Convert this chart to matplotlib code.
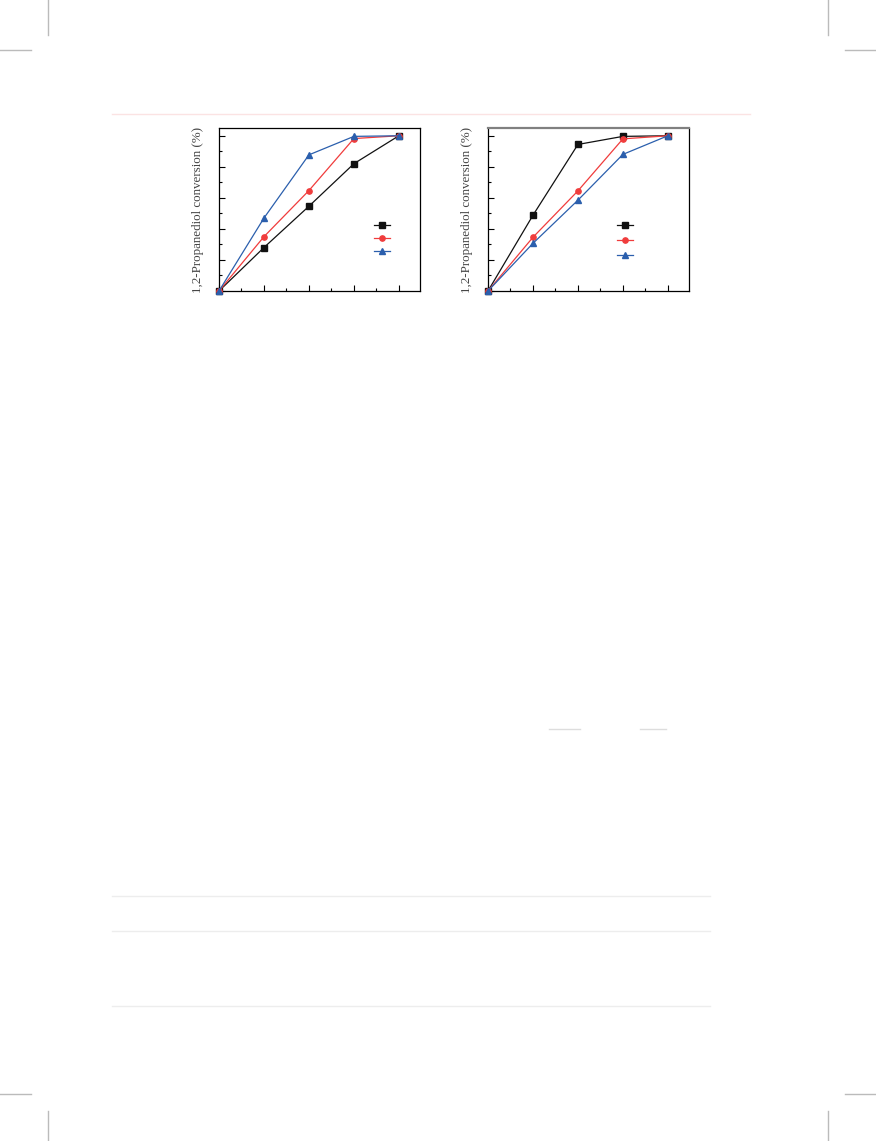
import numpy as np
import matplotlib.pyplot as plt
from matplotlib.lines import Line2D

plt.rcParams['font.family'] = ['Liberation Serif', 'DejaVu Serif']

# time points (h) and conversion (%)
time = [0, 1, 2, 3, 4]
left_black = [0, 28.0, 54.6, 82.0, 100]
left_red = [0, 35.0, 64.7, 98.2, 100]
left_blue = [0, 47.0, 87.7, 99.6, 100]
right_black = [0, 48.8, 94.4, 99.6, 100]
right_red = [0, 34.6, 64.5, 98.0, 100]
right_blue = [0, 30.7, 58.5, 88.0, 100]

W, H = 876, 1141
fig = plt.figure(figsize=(W / 100, H / 100), dpi=100)

BLACK = '#111111'
RED = '#f03c3c'
BLUE = '#2b5fad'


def px_axes(x0, y0, x1, y1):
    return fig.add_axes([x0 / W, 1 - y1 / H, (x1 - x0) / W, (y1 - y0) / H])


def draw(ax, series, leg_pos, spacing):
    styles = [(BLACK, 's'), (RED, 'o'), (BLUE, '^')]
    handles = []
    for (c, m), y in zip(styles, series):
        h, = ax.plot(time, y, color=c, marker=m, markersize=3.8, lw=0.9,
                     clip_on=False, zorder=3)
        handles.append(h)
    ax.set_xlim(0, 4.47)
    ax.set_ylim(0, 105)
    ax.set_xticks([0, 1, 2, 3, 4])
    ax.set_xticks([0.5, 1.5, 2.5, 3.5], minor=True)
    ax.set_yticks(np.arange(0, 101, 20))
    ax.set_yticks(np.arange(10, 101, 20), minor=True)
    ax.tick_params(which='both', direction='in', labelbottom=False,
                   labelleft=False, width=0.8)
    ax.tick_params(which='major', length=4)
    ax.tick_params(which='minor', length=2.5)
    for s in ax.spines.values():
        s.set_linewidth(0.9)
    ax.set_ylabel('1,2-Propanediol conversion (%)', fontsize=9.4,
                  color='#444444', labelpad=11)
    ax.legend(handles, ['', '', ''], loc='upper left', bbox_to_anchor=leg_pos,
              frameon=False, handlelength=1.6, handletextpad=0, borderpad=0,
              borderaxespad=0, fontsize=7, labelspacing=spacing)


ax1 = px_axes(219, 128, 420, 291)
draw(ax1, [left_black, left_red, left_blue], (0.771, 0.43), 0.45)

ax2 = px_axes(488, 128, 689, 291)
draw(ax2, [right_black, right_red, right_blue], (0.642, 0.43), 0.65)
ax2.spines['top'].set_color('#808080')
ax2.spines['top'].set_linewidth(1.6)


# faint page decorations
def fline(x0, y0, x1, y1, color='#bbbbbb', lw=1.0):
    fig.add_artist(Line2D([x0 / W, x1 / W], [1 - y0 / H, 1 - y1 / H],
                          color=color, lw=lw, transform=fig.transFigure))


for x in (48, 828):
    fline(x, 0, x, 35)
    fline(x, 1111, x, 1141)
fline(0, 50, 31, 50)
fline(845, 50, 876, 50)
fline(0, 1094, 31, 1094)
fline(845, 1094, 876, 1094)
fline(112, 114, 750, 114, color='#fbe3e3')
for y in (896, 931, 1006):
    fline(112, y, 710, y, color='#ededed')
fline(549, 729, 580, 729, color='#dddddd')
fline(640, 729, 666, 729, color='#dddddd')

fig.savefig('out.png', dpi=100)
